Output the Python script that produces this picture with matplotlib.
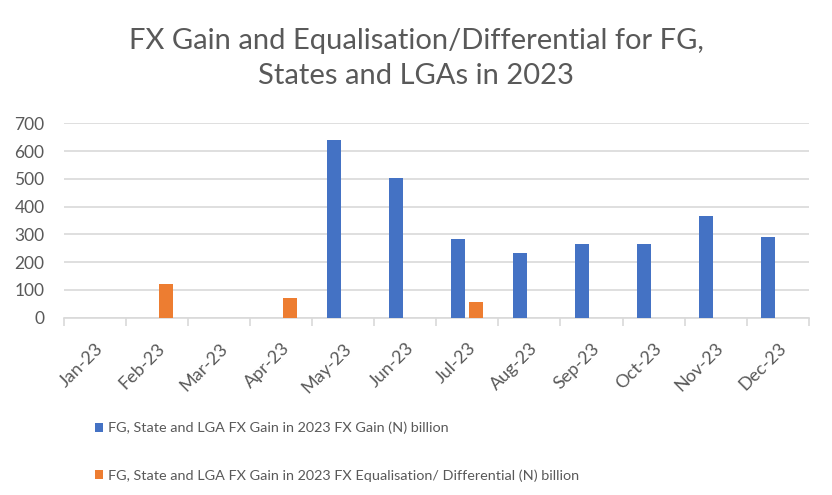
import matplotlib.pyplot as plt
import numpy as np

# Monthly data, (N) billion
months = ["Jan-23", "Feb-23", "Mar-23", "Apr-23", "May-23", "Jun-23",
          "Jul-23", "Aug-23", "Sep-23", "Oct-23", "Nov-23", "Dec-23"]
fx_gain = [0, 0, 0, 0, 639, 502, 283, 233, 264, 264, 365, 290]
fx_equalisation = [0, 120, 0, 70, 0, 0, 58, 0, 0, 0, 0, 0]

label_gain = "FG, State and LGA FX Gain in 2023 FX Gain (N) billion"
label_eq = "FG, State and LGA FX Gain in 2023 FX Equalisation/ Differential (N) billion"

plt.rcParams['font.family'] = ['Lato', 'DejaVu Sans']
grey = '#595959'

fig = plt.figure(figsize=(8.32, 4.95), dpi=100)
ax = fig.add_axes([0.077, 0.358, 0.895, 0.393])

x = np.arange(len(months))
w = 0.225
b1 = ax.bar(x - 0.155, fx_gain, width=w, color='#4472C4', label=label_gain, zorder=3)
b2 = ax.bar(x + 0.145, fx_equalisation, width=w, color='#ED7D31', label=label_eq, zorder=3)

ax.set_xlim(-0.5, len(months) - 0.5)
ax.set_ylim(0, 700)
ax.set_yticks(range(0, 701, 100))
ax.grid(axis='y', color='#d9d9d9', linewidth=1.2, zorder=0)

# category tick marks sit on the boundaries, labels in the middle
ax.set_xticks(np.arange(-0.5, len(months), 1.0))
ax.set_xticklabels([])
ax.set_xticks(x, minor=True)
ax.set_xticklabels(months, minor=True, rotation=45, ha='right',
                   rotation_mode='anchor', fontsize=13, color=grey)
ax.tick_params(axis='x', which='major', length=6, color='#d9d9d9', width=1.2)
ax.tick_params(axis='x', which='minor', length=0, pad=16)
ax.tick_params(axis='y', length=0, pad=14, labelsize=12.5, labelcolor=grey)

for s in ['top', 'right', 'left']:
    ax.spines[s].set_visible(False)
ax.spines['bottom'].set_color('#d9d9d9')
ax.spines['bottom'].set_linewidth(1.2)

fig.suptitle("FX Gain and Equalisation/Differential for FG,\nStates and LGAs in 2023",
             y=0.943, fontsize=21, color=grey, linespacing=1.42)

fig.legend(handles=[b1, b2], loc='center left', bbox_to_anchor=(0.098, 0.0875),
           bbox_transform=fig.transFigure, frameon=False, fontsize=10.4,
           labelcolor=grey, handlelength=0.6, handleheight=0.6,
           handletextpad=0.3, labelspacing=2.4)

fig.savefig("out.png", dpi=100)
